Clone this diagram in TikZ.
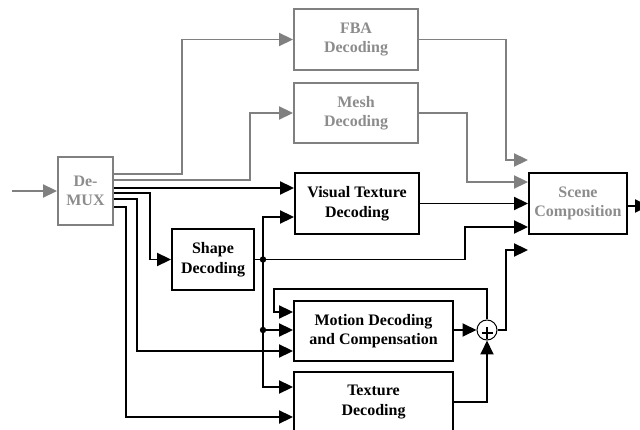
\documentclass[tikz,border=0pt]{standalone}
\usepackage{fontspec}
\setmainfont{Liberation Serif}
\usetikzlibrary{arrows.meta}
\definecolor{lg}{RGB}{128,128,128}
\definecolor{tg}{RGB}{140,140,140}
\begin{document}
\begin{tikzpicture}[x=1pt,y=-1pt,
  box/.style={draw, line width=1.9pt, rectangle, inner sep=0pt, align=center,
    font=\fontsize{16}{19.5}\selectfont\bfseries},
  gbox/.style={box, draw=lg, text=tg},
  arr/.style={line width=1.9pt, -{Triangle[length=14pt,width=13pt]}},
  garr/.style={arr, draw=lg, color=lg}]
\useasboundingbox (0,0) rectangle (640,430);

% nodes
\node[gbox, minimum width=55pt, minimum height=68pt] (demux) at (85.5,191) {De-\\MUX};
\node[gbox, minimum width=124pt, minimum height=61pt] (fba) at (356,39.5) {FBA\\Decoding};
\node[gbox, minimum width=124pt, minimum height=60pt] (mesh) at (356,113) {Mesh\\Decoding};
\node[box, minimum width=124pt, minimum height=61pt] (vt) at (357,203.5) {Visual Texture\\Decoding};
\node[box, minimum width=82pt, minimum height=61pt] (shape) at (213,259.5) {Shape\\Decoding};
\node[gbox, draw=black, minimum width=98pt, minimum height=61pt] (scene) at (578,203.5) {Scene\\Composition};
\node[box, minimum width=159pt, minimum height=60pt] (motion) at (373.5,331) {Motion Decoding\\and Compensation};
\node[box, minimum width=159pt, minimum height=60pt] (texture) at (373.5,402) {Texture\\Decoding};
\node[circle, draw, line width=1pt, minimum size=20pt, inner sep=0pt] (adder) at (487,330) {};
\draw[line width=1.2pt] (481.5,333) -- (492.5,333) (487,327) -- (487,339);

\coordinate (in) at (12,191);
\coordinate (out) at (649,206);
\coordinate (j1) at (263,259.5);
\coordinate (j2) at (263,330);

% input
\draw[garr] (in) -- (demux.west);

% demux outputs
\draw[garr] (demux.east |- 0,174) -| (182,39.5) -- (fba.west);
\draw[garr] (demux.east |- 0,180) -| (250,113) -- (mesh.west);
\draw[arr] (demux.east |- 0,188) -- (vt.west |- 0,188);
\draw[arr] (demux.east |- 0,193) -| (150,259.5) -- (shape.west);
\draw[arr] (demux.east |- 0,199) -| (137,351) -- (motion.west |- 0,351);
\draw[arr] (demux.east |- 0,207) -| (126,417) -- (texture.west |- 0,417);

% shape outputs
\draw[arr] (shape.east) -| (465,227) -- (scene.west |- 0,227);
\draw[arr] (j1) |- (vt.west |- 0,217);
\draw[arr] (j1) |- (texture.west |- 0,387);
\draw[arr] (j2) -- (motion.west |- j2);
\fill (j1) circle (3.2pt);
\fill (j2) circle (3.2pt);

% motion / adder
\draw[arr] (motion.east |- adder.west) -- (adder.west);
\draw[arr] (adder.north) |- (274,289) |- (motion.west |- 0,312);
\draw[arr] (adder.east) -| (506,250) -- (scene.west |- 0,250);
\draw[arr] (texture.east) -| (adder.south);

% to scene
\draw[arr] (vt.east) -- (scene.west);
\draw[garr] (fba.east) -| (506,160) -- (scene.west |- 0,160);
\draw[garr] (mesh.east) -| (467,182) -- (scene.west |- 0,182);
\draw[arr] (scene.east |- out) -- (out);
\end{tikzpicture}
\end{document}
